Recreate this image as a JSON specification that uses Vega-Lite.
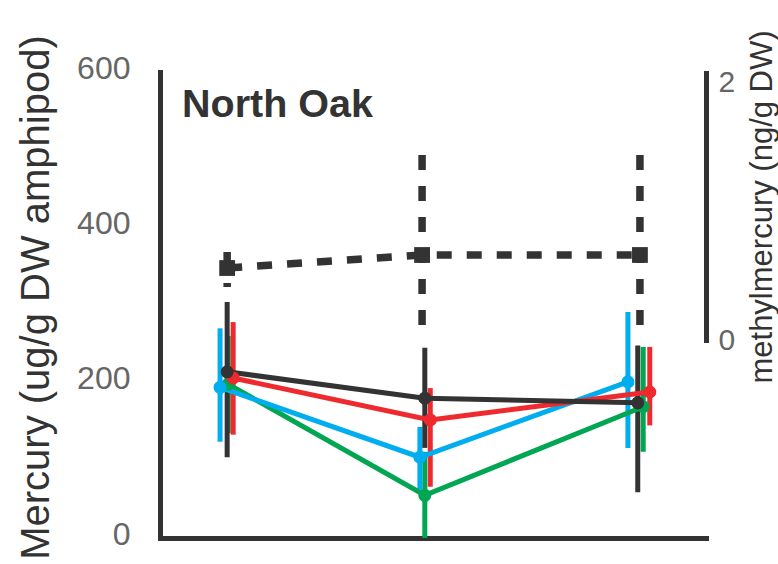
{
  "$schema": "https://vega.github.io/schema/vega-lite/v6.json",
  "width": 546,
  "height": 466,
  "autosize": {"type": "none"},
  "padding": {"left": 160, "top": 72, "right": 72, "bottom": 26},
  "background": "white",
  "title": {"text": "North Oak", "anchor": "start", "frame": "group", "orient": "top", "offset": -127, "dx": 22, "font": "Liberation Sans", "fontSize": 39.5, "fontWeight": "bold", "color": "#333333", "baseline": "alphabetic"},
  "config": {
    "view": {"stroke": null},
    "axis": {"grid": false, "ticks": false, "tickSize": 0, "domainColor": "#333333", "domainWidth": 5, "domainCap": "square", "labelFont": "Liberation Sans", "labelColor": "#666666", "titleFont": "Liberation Sans", "titleFontWeight": "normal", "titleColor": "#333333"}
  },
  "datasets": {
    "hg": [
      {"series": "green", "day": 12.5, "hg": 198, "lo": 135, "hi": 260},
      {"series": "green", "day": 48.5, "hg": 55, "lo": 0, "hi": 111},
      {"series": "green", "day": 88.5, "hg": 169, "lo": 111, "hi": 246},
      {"series": "blue", "day": 11.0, "hg": 194, "lo": 124, "hi": 270},
      {"series": "blue", "day": 47.6, "hg": 104, "lo": 62, "hi": 143},
      {"series": "blue", "day": 85.7, "hg": 201, "lo": 116, "hi": 291},
      {"series": "red", "day": 13.4, "hg": 206, "lo": 133, "hi": 278},
      {"series": "red", "day": 49.5, "hg": 152, "lo": 66, "hi": 193},
      {"series": "red", "day": 89.7, "hg": 188, "lo": 145, "hi": 246},
      {"series": "black", "day": 12.3, "hg": 214, "lo": 104, "hi": 304},
      {"series": "black", "day": 48.5, "hg": 180, "lo": 116, "hi": 245},
      {"series": "black", "day": 87.5, "hg": 174, "lo": 59, "hi": 248}
    ],
    "mehg": [
      {"day": 12.3, "mehg": 0.558, "lo": 0.411, "hi": 0.682},
      {"day": 48.0, "mehg": 0.659, "lo": 0.10, "hi": 1.434},
      {"day": 87.9, "mehg": 0.659, "lo": 0.10, "hi": 1.434}
    ]
  },
  "layer": [
    {
      "data": {"name": "hg"},
      "encoding": {
        "x": {"field": "day", "type": "quantitative", "scale": {"domain": [0, 100], "nice": false, "zero": false}, "axis": {"labels": false, "title": null, "ticks": false}},
        "color": {"field": "series", "type": "nominal", "scale": {"domain": ["green", "blue", "red", "black"], "range": ["#00a651", "#00aeef", "#ee2a2e", "#333333"]}, "legend": null}
      },
      "layer": [
        {
          "mark": {"type": "rule", "strokeWidth": 5},
          "encoding": {
            "y": {"field": "hi", "type": "quantitative", "scale": {"domain": [0, 600], "nice": false}, "axis": {"values": [0, 200, 400, 600], "labelFontSize": 32, "labelPadding": 30, "labelOffset": -4, "title": "Mercury (ug/g DW amphipod)", "titleFontSize": 40, "titleAngle": 270, "titleX": -112, "titleY": 225, "titleAlign": "center", "titleBaseline": "alphabetic"}},
            "y2": {"field": "lo"}
          }
        },
        {
          "mark": {"type": "line", "strokeWidth": 5},
          "encoding": {
            "y": {"field": "hg", "type": "quantitative", "axis": {"values": [0, 200, 400, 600], "labelFontSize": 32, "labelPadding": 30, "labelOffset": -4, "title": "Mercury (ug/g DW amphipod)", "titleFontSize": 40, "titleAngle": 270, "titleX": -112, "titleY": 225, "titleAlign": "center", "titleBaseline": "alphabetic"}}
          }
        },
        {
          "mark": {"type": "point", "shape": "circle", "filled": true, "opacity": 1, "size": 170},
          "encoding": {
            "y": {"field": "hg", "type": "quantitative", "axis": {"values": [0, 200, 400, 600], "labelFontSize": 32, "labelPadding": 30, "labelOffset": -4, "title": "Mercury (ug/g DW amphipod)", "titleFontSize": 40, "titleAngle": 270, "titleX": -112, "titleY": 225, "titleAlign": "center", "titleBaseline": "alphabetic"}}
          }
        }
      ]
    },
    {
      "data": {"name": "mehg"},
      "encoding": {
        "x": {"field": "day", "type": "quantitative"}
      },
      "layer": [
        {
          "mark": {"type": "rule", "strokeWidth": 7.5, "strokeDash": [15, 16], "color": "#333333"},
          "encoding": {
            "y": {"field": "hi", "type": "quantitative", "scale": {"domain": [0, 2.07], "range": [268, 1], "nice": false}, "axis": {"orient": "right", "values": [0, 1, 2], "format": "d", "labelFontSize": 30, "labelPadding": 12, "title": "methylmercury (ng/g DW)", "titleFontSize": 31, "titleAngle": 270, "titleX": 65, "titleY": 134.5, "titleAlign": "center", "titleBaseline": "alphabetic"}},
            "y2": {"field": "lo"}
          }
        },
        {
          "mark": {"type": "line", "strokeWidth": 7.5, "strokeDash": [15, 15], "color": "#333333"},
          "encoding": {
            "y": {"field": "mehg", "type": "quantitative", "axis": {"orient": "right", "values": [0, 1, 2], "format": "d", "labelFontSize": 30, "labelPadding": 12, "title": "methylmercury (ng/g DW)", "titleFontSize": 31, "titleAngle": 270, "titleX": 65, "titleY": 134.5, "titleAlign": "center", "titleBaseline": "alphabetic"}}
          }
        },
        {
          "mark": {"type": "point", "shape": "square", "filled": true, "opacity": 1, "size": 250, "color": "#333333"},
          "encoding": {
            "y": {"field": "mehg", "type": "quantitative", "axis": {"orient": "right", "values": [0, 1, 2], "format": "d", "labelFontSize": 30, "labelPadding": 12, "title": "methylmercury (ng/g DW)", "titleFontSize": 31, "titleAngle": 270, "titleX": 65, "titleY": 134.5, "titleAlign": "center", "titleBaseline": "alphabetic"}}
          }
        }
      ]
    }
  ],
  "resolve": {"scale": {"y": "independent"}}
}
